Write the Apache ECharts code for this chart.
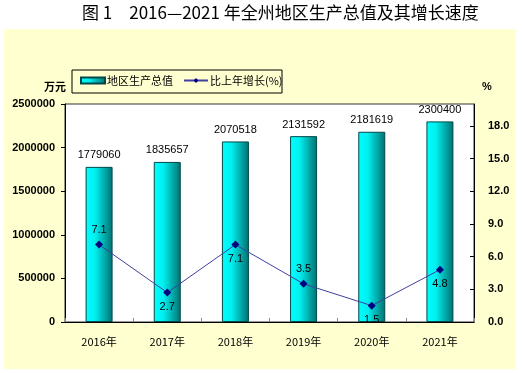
<!DOCTYPE html>
<html><head><meta charset="utf-8">
<script src="https://cdn.jsdelivr.net/npm/echarts@6/dist/echarts.min.js"></script>
<style>html,body{margin:0;padding:0;background:#fff}#c{width:522px;height:373px}</style>
</head><body><div id="c"></div>
<script>
var categories = ['2016年','2017年','2018年','2019年','2020年','2021年'];
var gdpValues = [1779060, 1835657, 2070518, 2131592, 2181619, 2300400];
var growthValues = [7.1, 2.7, 7.1, 3.5, 1.5, 4.8];
var growthLabelPos = ['top','bottom','bottom','top','bottom','bottom'];
var titleText = '图 1　2016—2021 年全州地区生产总值及其增长速度';
var seriesNames = ['地区生产总值', '比上年增长(%)'];

var chart = echarts.init(document.getElementById('c'));
var barGrad = new echarts.graphic.LinearGradient(0,0,1,0,[
  {offset:0,color:'#00ffff'},{offset:0.35,color:'#00f0f0'},{offset:1,color:'#006f6f'}]);
var fontCJK = '"Noto Sans CJK SC", "DejaVu Sans", sans-serif';
var fontNum = 'Arial, "Liberation Sans", sans-serif';
chart.setOption({
  backgroundColor:'#ffffff',
  animation:false,
  graphic:[
    {type:'rect',z:-10,shape:{x:4,y:29,width:512,height:340},style:{fill:'#ffffd0'}},
    {type:'text',left:82,top:4,style:{text:titleText,font:'17px '+fontCJK,fill:'#000'}},
    {type:'rect',shape:{x:72,y:70,width:210,height:23},style:{fill:'rgba(0,0,0,0)',stroke:'#000',lineWidth:1}}
  ],
  legend:{
    left:80, top:75, itemGap:10, itemWidth:24, itemHeight:6, padding:0,
    textStyle:{fontSize:11,color:'#000',fontFamily:fontCJK,padding:[0,0,0,-3]},
    data:[{name:seriesNames[0],icon:'rect'},{name:seriesNames[1]}]
  },
  grid:{left:65,right:48,top:104,bottom:51,show:true,backgroundColor:'#ffffff',borderColor:'#333',borderWidth:1},
  xAxis:{
    type:'category', data:categories,
    axisLine:{lineStyle:{color:'#000'}},
    axisTick:{show:true,inside:true,length:4,lineStyle:{color:'#888'}},
    axisLabel:{color:'#000',fontSize:11,margin:14,fontFamily:fontCJK}
  },
  yAxis:[
    {type:'value',min:0,max:2500000,interval:500000,
     name:'万元',nameLocation:'end',nameGap:12,
     nameTextStyle:{color:'#000',fontSize:11,fontWeight:'bold',fontFamily:fontCJK,padding:[0,20,0,0]},
     axisLine:{show:true,lineStyle:{color:'#000'}},
     axisTick:{show:true,length:4,lineStyle:{color:'#000'}},
     axisLabel:{color:'#000',fontSize:11,fontWeight:'bold',fontFamily:fontNum,margin:10,
       formatter:function(v){return String(v);}},
     splitLine:{show:false}},
    {type:'value',min:0,max:20,interval:3,position:'right',
     name:'%',nameLocation:'end',nameGap:12,
     nameTextStyle:{color:'#000',fontSize:11,fontWeight:'bold',padding:[0,0,0,26]},
     axisLine:{show:true,lineStyle:{color:'#000'}},
     axisTick:{show:true,inside:true,length:4,lineStyle:{color:'#000'}},
     axisLabel:{color:'#000',fontSize:11,fontWeight:'bold',fontFamily:fontNum,margin:14,showMaxLabel:false,
       formatter:function(v){return v.toFixed(1);}},
     splitLine:{show:false}}
  ],
  series:[
    {name:seriesNames[0],type:'bar',yAxisIndex:0,data:gdpValues,barWidth:27,
     itemStyle:{color:barGrad,borderColor:'#004848',borderWidth:1},
     label:{show:true,position:'top',distance:6,color:'#000',fontSize:11,fontFamily:fontNum}},
    {name:seriesNames[1],type:'line',yAxisIndex:1,
     data:growthValues.map(function(v,i){return {value:v,label:{position:growthLabelPos[i]}};}),
     symbol:'diamond',symbolSize:8,
     lineStyle:{color:'#4040a0',width:1},
     itemStyle:{color:'#000080'},
     label:{show:true,distance:5,color:'#000',fontSize:11,fontFamily:fontNum,
       formatter:function(p){return p.value.toFixed(1);}}}
  ]
});
</script></body></html>
